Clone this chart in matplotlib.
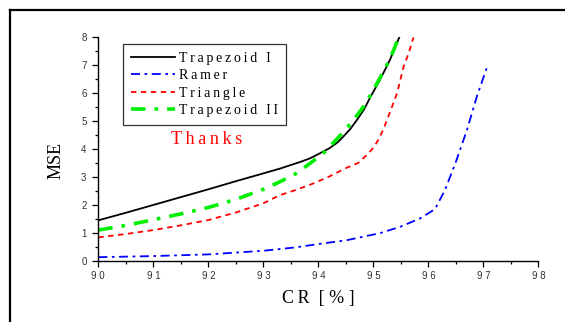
import matplotlib
matplotlib.use("Agg")
import matplotlib.pyplot as plt
from matplotlib.ticker import MultipleLocator, FuncFormatter

# values
trap1_x = [90.0, 90.5, 91.0, 91.5, 92.0, 92.5, 93.0, 93.3, 93.5, 93.7,
           93.85, 94.0, 94.2, 94.35, 94.45, 94.58, 94.7, 94.83, 94.95,
           95.12, 95.3, 95.47]
trap1_y = [1.45, 1.72, 2.00, 2.28, 2.56, 2.85, 3.13, 3.30, 3.43, 3.56,
           3.67, 3.82, 4.03, 4.24, 4.44, 4.72, 5.04, 5.42, 5.88,
           6.48, 7.19, 8.0]

ramer_x = [90.0, 91.0, 92.0, 93.0, 93.58, 94.0, 94.52, 95.12, 95.49, 95.85,
           96.12, 96.3, 96.49, 96.7, 96.88, 97.06]
ramer_y = [0.13, 0.17, 0.23, 0.36, 0.48, 0.60, 0.74, 0.99, 1.22, 1.52,
           1.85, 2.53, 3.49, 4.68, 5.88, 6.9]

tri_x = [90.0, 90.5, 91.0, 91.5, 92.0, 92.5, 93.0, 93.3, 93.58, 93.91,
         94.2, 94.49, 94.73, 94.88, 95.0, 95.09, 95.18, 95.27, 95.35,
         95.43, 95.55, 95.64, 95.73]
tri_y = [0.84, 0.96, 1.10, 1.27, 1.46, 1.73, 2.06, 2.35, 2.53, 2.77,
         3.02, 3.31, 3.51, 3.79, 4.05, 4.33, 4.70, 5.16, 5.58,
         6.0, 6.95, 7.43, 8.0]

trap2_x = [90.0, 90.5, 91.0, 91.5, 92.0, 92.5, 93.0, 93.3, 93.58, 93.85,
           94.1, 94.25, 94.43, 94.6, 94.8, 94.97, 95.1, 95.24, 95.35, 95.45]
trap2_y = [1.10, 1.27, 1.47, 1.68, 1.91, 2.20, 2.56, 2.83, 3.11, 3.49,
           3.87, 4.18, 4.56, 4.95, 5.46, 6.0, 6.48, 6.99, 7.45, 7.95]

labels = ["Trapezoid I", "Ramer", "Triangle", "Trapezoid II"]

TS = "\u2009"  # thin space, the original uses wide letter spacing


def spaced(s):
    return TS.join(s)


fig = plt.figure(figsize=(5.65, 3.22), dpi=100)
ax = fig.add_axes([0.174, 0.190, 0.779, 0.694])

ax.plot(trap1_x, trap1_y, color="black", lw=1.3, label=spaced(labels[0]))
ax.plot(ramer_x, ramer_y, color="#0000ff", lw=1.3,
        linestyle=(0, (5, 2.5, 1.5, 2.5)), label=spaced(labels[1]))
ax.plot(tri_x, tri_y, color="#ff0000", lw=1.3,
        linestyle=(0, (3, 2.5)), label=spaced(labels[2]))
ax.plot(trap2_x, trap2_y, color="#00ee00", lw=2.6,
        linestyle=(0, (4, 2.5, 1, 2.5)), label=spaced(labels[3]))

ax.set_xlim(90, 98)
ax.set_ylim(0, 8)
for s in ["top", "right"]:
    ax.spines[s].set_visible(False)
for s in ["left", "bottom"]:
    ax.spines[s].set_linewidth(1.0)

ax.xaxis.set_major_locator(MultipleLocator(1))
ax.xaxis.set_minor_locator(MultipleLocator(0.5))
ax.yaxis.set_major_locator(MultipleLocator(1))
ax.yaxis.set_minor_locator(MultipleLocator(0.5))
ax.xaxis.set_major_formatter(FuncFormatter(lambda v, p: " ".join(f"{v:.0f}")))
ax.tick_params(which="major", direction="out", length=4.5, width=0.9,
               labelsize=7, labelcolor="#333333")
ax.tick_params(which="minor", direction="out", length=2.5, width=0.9)
ax.tick_params(axis="x", pad=3)
ax.tick_params(axis="y", pad=4)
for t in ax.get_xticklabels() + ax.get_yticklabels():
    t.set_family("Liberation Sans")

ax.set_xlabel(spaced("CR") + "  [ % ]", family="Liberation Serif",
              fontsize=13, labelpad=6)
ax.set_ylabel("MSE", family="Liberation Serif", fontsize=13)
ax.yaxis.set_label_coords(-0.077, 0.45)

leg = ax.legend(loc="upper left", bbox_to_anchor=(0.056, 0.970),
                borderaxespad=0, frameon=True, fancybox=False,
                prop={"family": "Liberation Serif", "size": 10},
                handlelength=3.2, handletextpad=0.3, labelspacing=0.32,
                borderpad=0.55)
leg.get_frame().set_edgecolor("black")
leg.get_frame().set_linewidth(0.9)

ax.text(0.247, 0.545, spaced("Thanks"), transform=ax.transAxes,
        color="#ff0000", family="Liberation Serif", fontsize=13,
        ha="center", va="center")

# outer frame of the slide, cut at the right and bottom edges
fig.add_artist(plt.Line2D([0.0177, 0.0177], [0.0, 0.969], color="black",
                          lw=1.6, transform=fig.transFigure))
fig.add_artist(plt.Line2D([0.0177, 1.0], [0.969, 0.969], color="black",
                          lw=1.6, transform=fig.transFigure))

fig.savefig("out.png", dpi=100)
